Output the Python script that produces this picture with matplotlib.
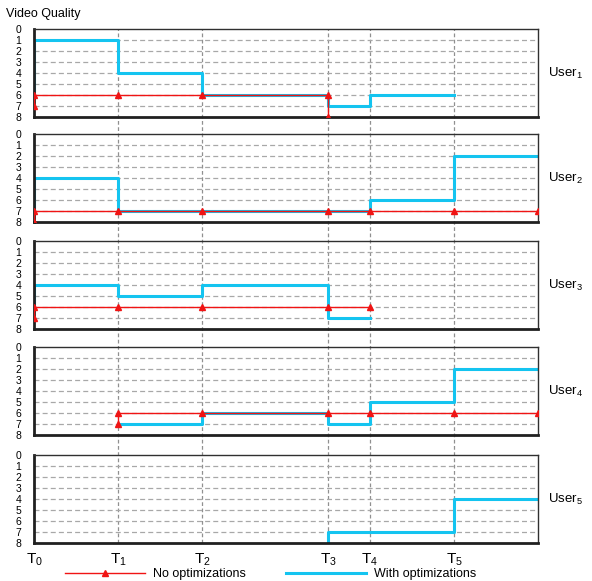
import matplotlib
matplotlib.use("Agg")
import matplotlib.pyplot as plt
from matplotlib.lines import Line2D

plt.rcParams['font.family'] = ['Liberation Sans', 'DejaVu Sans']
plt.rcParams['mathtext.fontset'] = 'custom'
plt.rcParams['mathtext.rm'] = 'Liberation Sans'

# time instants (T0..T5) and the end of the run
t_pos = [0, 2, 4, 7, 8, 10]
t_labels = [r'$\mathrm{T}_{%d}$' % i for i in range(6)]
t_end = 12

users = [r'$\mathrm{User}_{%d}$' % i for i in range(1, 6)]

# "No optimizations" (points, marked)
no_opt_x = [
    [0, 0, 2, 4, 7, 7],
    [0, 0, 2, 4, 7, 8, 10, 12],
    [0, 0, 2, 4, 7, 8],
    [2, 2, 4, 7, 8, 10, 12],
    [],
]
no_opt_y = [
    [7, 6, 6, 6, 6, 8],
    [8, 7, 7, 7, 7, 7, 7, 7],
    [7, 6, 6, 6, 6, 6],
    [7, 6, 6, 6, 6, 6, 6],
    [],
]

# "With optimizations" (step changes)
opt_x = [
    [0, 0, 2, 4, 7, 8, 10],
    [0, 0, 2, 8, 10, 12],
    [0, 0, 2, 4, 7, 8],
    [2, 4, 7, 8, 10, 12],
    [7, 7, 10, 12],
]
opt_y = [
    [6, 1, 4, 6, 7, 6, 6],
    [7, 4, 7, 6, 2, 2],
    [6, 4, 5, 4, 7, 7],
    [7, 6, 7, 5, 2, 2],
    [8, 7, 4, 4],
]

red = '#f01414'
cyan = '#14c4f0'

W, H = 592, 581
fig = plt.figure(figsize=(W / 100, H / 100), dpi=100)

left = 34 / W
width = 504 / W
tops = [29, 134, 241, 347, 455]
ph = 88

# background axes carrying the vertical time lines across all panels
bg = fig.add_axes([left, (H - tops[-1] - ph) / H, width, (tops[-1] + ph - tops[0]) / H], zorder=0)
bg.set_xlim(0, t_end)
bg.axis('off')
for t in t_pos[1:]:
    bg.axvline(t, color='#909090', lw=0.9, ls=(0, (3, 2)))

for i in range(5):
    ax = fig.add_axes([left, (H - tops[i] - ph) / H, width, ph / H], zorder=1)
    ax.set_facecolor('none')
    ax.set_xlim(0, t_end)
    ax.set_ylim(8, 0)
    ax.set_yticks(range(9))
    ax.tick_params(axis='y', length=0, labelsize=7.5, pad=9)
    for y in range(1, 8):
        ax.axhline(y, color='#a8a8a8', lw=0.9, ls=(0, (4, 2.5)), zorder=0)
    ax.plot(opt_x[i], opt_y[i], drawstyle='steps-post', color=cyan, lw=2.2, zorder=2)
    if no_opt_x[i]:
        ax.plot(no_opt_x[i], no_opt_y[i], color=red, lw=1.0, marker='^', ms=4.5, zorder=3)
    for side in ['top', 'right']:
        ax.spines[side].set_linewidth(1.0)
        ax.spines[side].set_color('#303030')
    for side in ['left', 'bottom']:
        ax.spines[side].set_linewidth(2.0)
        ax.spines[side].set_color('#202020')
    ax.text(1.02, 0.5, users[i], transform=ax.transAxes, fontsize=9.5, va='center', ha='left')
    if i < 4:
        ax.set_xticks([])
    else:
        ax.set_xticks(t_pos)
        ax.set_xticklabels(t_labels, fontsize=11)
        ax.tick_params(axis='x', length=0, pad=6)

fig.text(6 / W, 1 - 14 / H, 'Video Quality', fontsize=9, va='center', ha='left')

handles = [
    Line2D([], [], color=red, lw=1.0, marker='^', ms=4.5),
    Line2D([], [], color=cyan, lw=2.2),
]
fig.legend(handles, ['No optimizations', 'With optimizations'], loc='center left',
           bbox_to_anchor=(65 / W, 1 - 574 / H), ncol=2, frameon=False, fontsize=9,
           borderpad=0, borderaxespad=0, handlelength=6.4, handletextpad=0.65,
           columnspacing=3.2)

fig.savefig('out.png', dpi=100)
